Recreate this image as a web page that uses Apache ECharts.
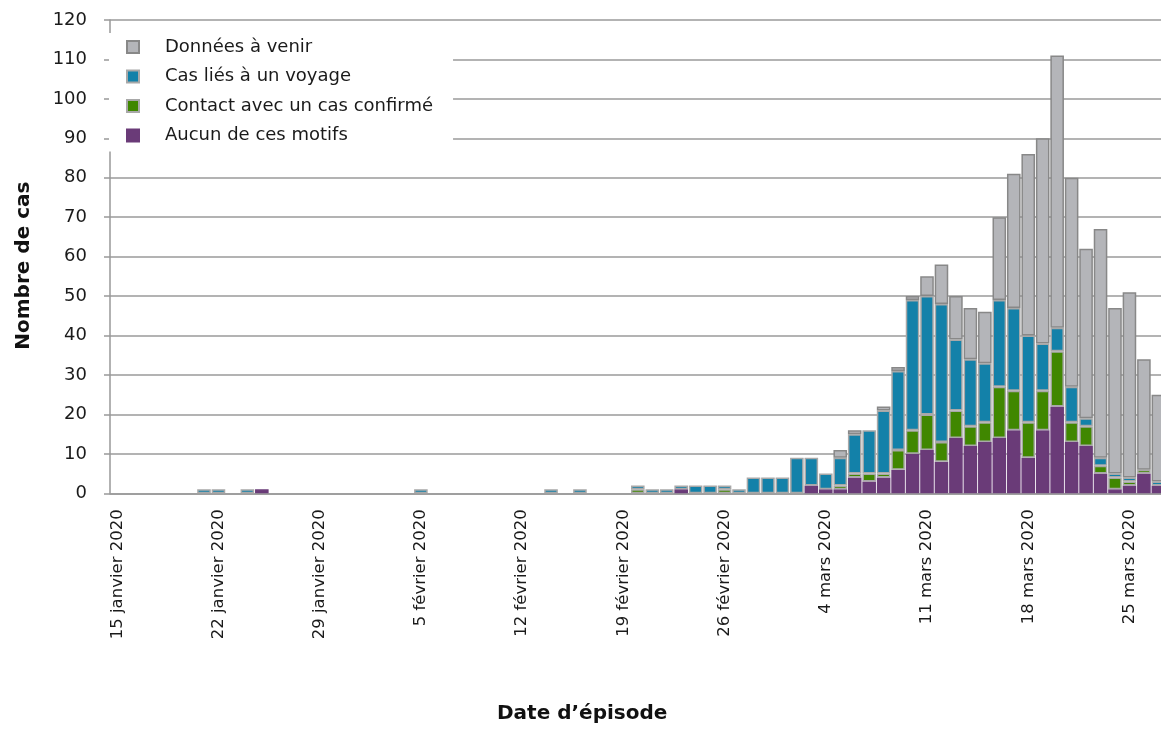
<!DOCTYPE html>
<html>
<head>
<meta charset="utf-8">
<script src="https://cdn.jsdelivr.net/npm/echarts@6.0.0/dist/echarts.min.js"></script>
<style>
html,body{margin:0;padding:0;background:#fff;}
#chart{width:1161px;height:729px;}
</style>
</head>
<body>
<div id="chart"></div>
<script>
// Episode dates (one bar per day)
var categories = [
  '15 janvier 2020','16 janvier 2020','17 janvier 2020','18 janvier 2020','19 janvier 2020','20 janvier 2020','21 janvier 2020',
  '22 janvier 2020','23 janvier 2020','24 janvier 2020','25 janvier 2020','26 janvier 2020','27 janvier 2020','28 janvier 2020',
  '29 janvier 2020','30 janvier 2020','31 janvier 2020','1 février 2020','2 février 2020','3 février 2020','4 février 2020',
  '5 février 2020','6 février 2020','7 février 2020','8 février 2020','9 février 2020','10 février 2020','11 février 2020',
  '12 février 2020','13 février 2020','14 février 2020','15 février 2020','16 février 2020','17 février 2020','18 février 2020',
  '19 février 2020','20 février 2020','21 février 2020','22 février 2020','23 février 2020','24 février 2020','25 février 2020',
  '26 février 2020','27 février 2020','28 février 2020','29 février 2020','1 mars 2020','2 mars 2020','3 mars 2020',
  '4 mars 2020','5 mars 2020','6 mars 2020','7 mars 2020','8 mars 2020','9 mars 2020','10 mars 2020',
  '11 mars 2020','12 mars 2020','13 mars 2020','14 mars 2020','15 mars 2020','16 mars 2020','17 mars 2020',
  '18 mars 2020','19 mars 2020','20 mars 2020','21 mars 2020','22 mars 2020','23 mars 2020','24 mars 2020',
  '25 mars 2020','26 mars 2020','27 mars 2020'
];

// Aucun de ces motifs
var aucun = [
  0,0,0,0,0,0,0,0,0,0,
  1,0,0,0,0,0,0,0,0,0,
  0,0,0,0,0,0,0,0,0,0,
  0,0,0,0,0,0,0,0,0,1,
  0,0,0,0,0,0,0,0,2,1,
  1,4,3,4,6,10,11,8,14,12,
  13,14,16,9,16,22,13,12,5,1,
  2,5,2
];
// Contact avec un cas confirmé
var contact = [
  0,0,0,0,0,0,0,0,0,0,
  0,0,0,0,0,0,0,0,0,0,
  0,0,0,0,0,0,0,0,0,0,
  0,0,0,0,0,0,1,0,0,0,
  0,0,1,0,0,0,0,0,0,0,
  1,1,2,1,5,6,9,5,7,5,
  5,13,10,9,10,14,5,5,2,3,
  1,1,0
];
// Cas liés à un voyage
var voyage = [
  0,0,0,0,0,0,1,1,0,1,
  0,0,0,0,0,0,0,0,0,0,
  0,1,0,0,0,0,0,0,0,0,
  1,0,1,0,0,0,1,1,1,1,
  2,2,1,1,4,4,4,9,7,4,
  7,10,11,16,20,33,30,35,18,17,
  15,22,21,22,12,6,9,2,2,1,
  1,0,1
];
// Données à venir
var aVenir = [
  0,0,0,0,0,0,0,0,0,0,
  0,0,0,0,0,0,0,0,0,0,
  0,0,0,0,0,0,0,0,0,0,
  0,0,0,0,0,0,0,0,0,0,
  0,0,0,0,0,0,0,0,0,0,
  2,1,0,1,1,1,5,10,11,13,
  13,21,34,46,52,69,53,43,58,42,
  47,28,22
];
var yTicks = [0,10,20,30,40,50,60,70,80,90,100,110,120];

var FONT = 'DejaVu Sans';
function clean(arr){ return arr.map(function(v){ return v === 0 ? '-' : v; }); }

function barSeries(name, data, color, border){
  return {
    name: name,
    type: 'bar',
    stack: 'total',
    data: clean(data),
    barCategoryGap: '6%',
    itemStyle: { color: color, borderColor: border, borderWidth: 1.5 },
    emphasis: { disabled: true }
  };
}

var chart = echarts.init(document.getElementById('chart'));
chart.setOption({
  animation: false,
  backgroundColor: '#ffffff',
  title: {
    text: 'Date d’épisode',
    left: 497, top: 704, padding: 0,
    textStyle: { fontFamily: FONT, fontSize: 20, fontWeight: 'bold', color: '#111' }
  },
  grid: { left: 110, top: 20, width: 1055.6, height: 473.3, outerBoundsMode: 'none', containLabel: false },
  legend: {
    orient: 'vertical',
    left: 109, top: 33,
    padding: [4, 20, 6, 17],
    backgroundColor: '#ffffff',
    itemWidth: 12, itemHeight: 12,
    itemGap: 9.5,
    icon: 'rect',
    data: ['Données à venir', 'Cas liés à un voyage', 'Contact avec un cas confirmé', 'Aucun de ces motifs'],
    textStyle: { fontFamily: FONT, fontSize: 18, color: '#1a1a1a', lineHeight: 20, padding: [0, 0, 0, 21] },
    selectedMode: false
  },
  xAxis: {
    type: 'category',
    data: categories,
    boundaryGap: true,
    axisLine: { lineStyle: { color: '#999', width: 1.5 } },
    axisTick: { interval: 6, length: 5, lineStyle: { color: '#999', width: 1.5 } },
    axisLabel: { interval: 6, rotate: 90, margin: 16, fontFamily: FONT, fontSize: 16.5, color: '#1a1a1a' },
    splitLine: { show: false }
  },
  yAxis: {
    type: 'value',
    min: yTicks[0], max: yTicks[yTicks.length - 1], interval: 10,
    name: 'Nombre de cas',
    nameLocation: 'middle',
    nameGap: 76,
    nameTextStyle: { fontFamily: FONT, fontSize: 20, fontWeight: 'bold', color: '#111', padding: [0, 18, 0, 0] },
    axisLine: { show: true, lineStyle: { color: '#999', width: 1.5 } },
    axisTick: { show: true, length: 6, lineStyle: { color: '#999', width: 1.5 } },
    axisLabel: { margin: 23, fontFamily: FONT, fontSize: 18, color: '#1a1a1a' },
    splitLine: { lineStyle: { color: '#9a9a9a', width: 1.5 } }
  },
  series: [
    barSeries('Aucun de ces motifs', aucun, '#6a3b78', '#6a3b78'),
    barSeries('Contact avec un cas confirmé', contact, '#408700', '#a8a8a8'),
    barSeries('Cas liés à un voyage', voyage, '#1381a9', '#a8a8a8'),
    barSeries('Données à venir', aVenir, '#b4b5b9', '#888888')
  ]
});
</script>
</body>
</html>
